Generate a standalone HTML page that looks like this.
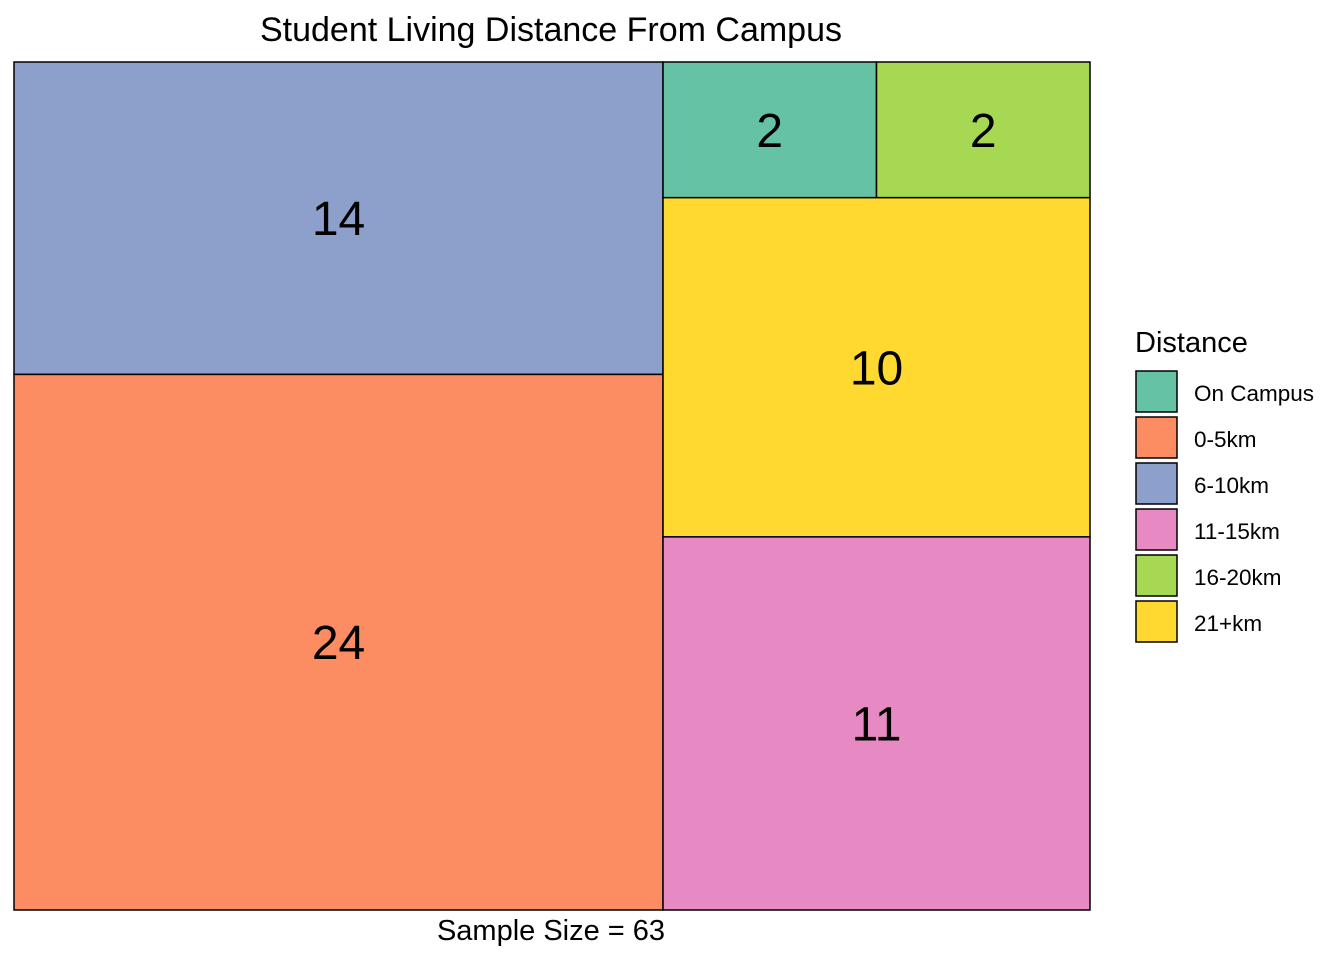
<!DOCTYPE html>
<html><head><meta charset="utf-8"><style>
body{margin:0;background:#fff;font-family:"Liberation Sans",Arial,sans-serif;}
svg text{font-family:"Liberation Sans",Arial,sans-serif;}
</style></head><body>
<svg id="chart" width="1344" height="960" xmlns="http://www.w3.org/2000/svg">
<text x="551" y="41" font-size="34" text-anchor="middle">Student Living Distance From Campus</text>
<text x="551" y="940" font-size="29" text-anchor="middle">Sample Size = 63</text>
<g id="tiles"></g>
<g id="legend">
<text x="1135" y="352" font-size="29">Distance</text>
</g>
</svg>
<script>
const categories = ["On Campus","0-5km","6-10km","11-15km","16-20km","21+km"];
const counts = [2,24,14,11,2,10];
const colors = ["#66C2A5","#FC8D62","#8DA0CB","#E78AC3","#A6D854","#FFD92F"];
const NS="http://www.w3.org/2000/svg";
const X0=14,Y0=62,W=1076,H=848;
const idx={};categories.forEach((c,i)=>idx[c]=i);
const layout=[
  [["6-10km"],["0-5km"]],
  [["On Campus","16-20km"],["21+km"],["11-15km"]]
];
const sum=a=>a.reduce((s,c)=>s+counts[idx[c]],0);
const total=counts.reduce((a,b)=>a+b,0);
const g=document.getElementById('tiles');
let x=X0;
layout.forEach(col=>{
  const colSum=col.reduce((s,r)=>s+sum(r),0);
  const cw=W*colSum/total;
  let y=Y0;
  col.forEach(row=>{
    const rs=sum(row);
    const rh=H*rs/colSum;
    let tx=x;
    row.forEach(c=>{
      const i=idx[c];
      const tw=cw*counts[i]/rs;
      const r=document.createElementNS(NS,'rect');
      r.setAttribute('x',tx);r.setAttribute('y',y);r.setAttribute('width',tw);r.setAttribute('height',rh);
      r.setAttribute('fill',colors[i]);r.setAttribute('stroke','#000');r.setAttribute('stroke-width','1.5');
      
      
      g.appendChild(r);
      const t=document.createElementNS(NS,'text');
      t.setAttribute('x',tx+tw/2);t.setAttribute('y',y+rh/2+17);
      t.setAttribute('font-size','48');t.setAttribute('text-anchor','middle');
      t.textContent=counts[i];
      
      
      g.appendChild(t);
      tx+=tw;
    });
    y+=rh;
  });
  x+=cw;
});
const lg=document.getElementById('legend');
categories.forEach((c,i)=>{
  const y=371+i*46;
  const r=document.createElementNS(NS,'rect');
  r.setAttribute('x',1136);r.setAttribute('y',y);r.setAttribute('width',41);r.setAttribute('height',41);
  r.setAttribute('fill',colors[i]);r.setAttribute('stroke','#000');r.setAttribute('stroke-width','1.5');
  
  
  lg.appendChild(r);
  const t=document.createElementNS(NS,'text');
  t.setAttribute('x',1194);t.setAttribute('y',y+30);t.setAttribute('font-size','22.5');
  t.textContent=c;
  
  
  lg.appendChild(t);
});
</script>
</body></html>
